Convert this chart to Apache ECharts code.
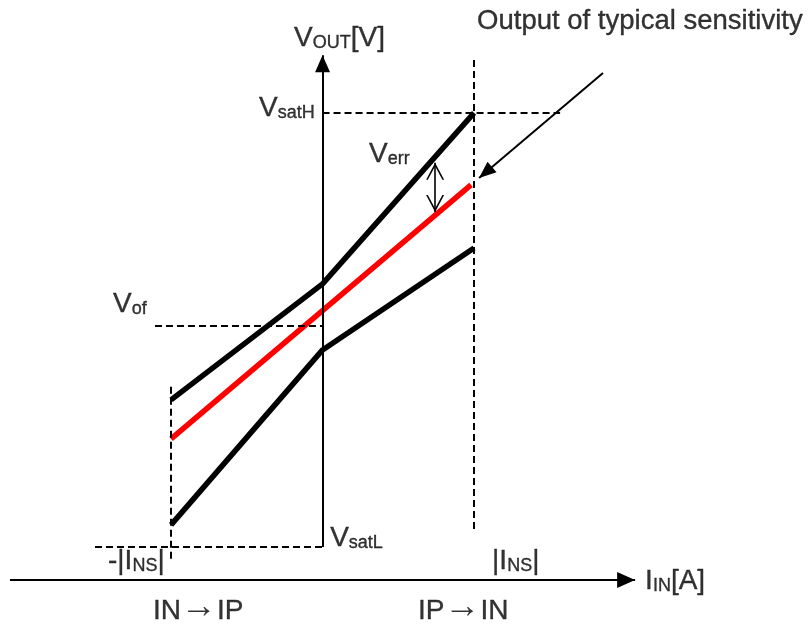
<!DOCTYPE html>
<html><head><meta charset="utf-8">
<script src="https://cdn.jsdelivr.net/npm/echarts@6/dist/echarts.min.js"></script>
<style>html,body{margin:0;padding:0;background:#fff}#c{width:811px;height:626px}</style>
</head><body><div id="c"></div>
<script>
// ---- Data (current in units of |I_NS|; output voltage with VsatL = 0, VsatH = 10) ----
const INS = 1;
const VsatL = 0;
const VsatH = 10;
const Vof = 5.09;
const upperLimit = [[-1, 3.39], [0, 6.06], [1, 10]];
const typicalOutput = [[-1, 2.49], [0.98, 8.34]];
const lowerLimit = [[-1, 0.51], [0, 4.54], [1, 6.89]];
const verrX = 0.743, verrFrom = 7.72, verrTo = 8.85;
const pointerFrom = [1.851, 10.92];
const pointerTo = [1.033, 8.50];
const xAxisFrom = -2.063, xAxisTo = 2.063, xAxisLevel = -0.76;
const yAxisTop = 11.33;
const insGuideLeft = [3.69, -0.30];
const insGuideRight = [11.22, 0.39];
const satHGuideEnd = 1.568;
const ofGuideStart = -1.106;
const satLGuideStart = -1.502;
// text labels: [x, y (bottom of text), rich text]
const labelItems = [
  [-0.188, 11.40, '{m|V}{s|OUT}{m|[V]}'],
  [1.020, 11.79, '{o|Output of typical sensitivity}'],
  [-0.419, 9.79, '{m|V}{s|satH}'],
  [0.307, 8.73, '{m|V}{s|err}'],
  [-1.383, 5.275, '{m|V}{s|of}'],
  [0.050, -0.115, '{m|V}{s|satL}'],
  [-1.416, -0.645, '{m|-|I}{s|NS}{m||}'],
  [1.119, -0.645, '{m||I}{s|NS}{m||}'],
  [2.129, -1.106, '{m|I}{s|IN}{m|[A]}'],
  [-1.119, -1.797, '{m|IN}{a|\u2192}{m|IP}'],
  [0.630, -1.797, '{m|IP}{a|\u2192}{m|IN}']
];

const FONT = '"Liberation Sans", Arial, Helvetica, sans-serif';
const chart = echarts.init(document.getElementById('c'), null, {renderer: 'canvas'});
const dashed = {type: [7, 4], width: 2, color: '#000'};
const chevron = 'path://M0,17L9,0L18,17L16.3,17L9,3.4L1.7,17Z';
const txt = {verticalAlign: 'bottom', fontFamily: FONT, color: '#000', textBorderColor: '#000', textBorderWidth: 0.35};

chart.setOption({
  backgroundColor: '#fff',
  animation: false,
  grid: {left: 0, right: 0, top: 0, bottom: 0},
  xAxis: {type: 'value', min: -2.129, max: 3.224, show: false},
  yAxis: {type: 'value', min: -1.82, max: 12.601, show: false},
  series: [
    {
      name: 'guides', type: 'line', data: [], silent: true, z: 1,
      markLine: {
        silent: true, symbol: ['none', 'none'], label: {show: false},
        lineStyle: dashed, emphasis: {disabled: true},
        data: [
          [{coord: [-INS, insGuideLeft[0]]}, {coord: [-INS, insGuideLeft[1]]}],
          [{coord: [INS, insGuideRight[0]]}, {coord: [INS, insGuideRight[1]]}],
          [{coord: [0, VsatH]}, {coord: [satHGuideEnd, VsatH]}],
          [{coord: [ofGuideStart, Vof]}, {coord: [0, Vof]}],
          [{coord: [satLGuideStart, VsatL]}, {coord: [0, VsatL]}]
        ]
      }
    },
    {name: 'upper', type: 'line', data: upperLimit, symbol: 'none', z: 3,
      lineStyle: {width: 5.5, color: '#000'}},
    {name: 'lower', type: 'line', data: lowerLimit, symbol: 'none', z: 3,
      lineStyle: {width: 5.5, color: '#000'}},
    {name: 'typical', type: 'line', data: typicalOutput, symbol: 'none', z: 3,
      lineStyle: {width: 5.5, color: '#ff0000'}},
    {
      name: 'axes', type: 'line', data: [], silent: true, z: 5,
      markLine: {
        silent: true, label: {show: false}, emphasis: {disabled: true},
        lineStyle: {type: 'solid', width: 2, color: '#000'},
        symbol: ['none', 'triangle'],
        data: [
          [{coord: [xAxisFrom, xAxisLevel], symbol: 'none'},
           {coord: [xAxisTo, xAxisLevel], symbol: 'triangle', symbolSize: [16, 18], symbolOffset: [0, 9]}],
          [{coord: [0, VsatL], symbol: 'none'},
           {coord: [0, yAxisTop], symbol: 'triangle', symbolSize: [15, 17], symbolOffset: [0, 8.5]}],
          [{coord: pointerFrom, symbol: 'none', lineStyle: {width: 2}},
           {coord: pointerTo, symbol: 'triangle', symbolSize: [14, 17], symbolOffset: [0, 8.5]}],
          [{coord: [verrX, verrFrom], symbol: chevron, symbolSize: [18, 17], symbolOffset: [0, 8.5], lineStyle: {width: 1.6}},
           {coord: [verrX, verrTo], symbol: chevron, symbolSize: [18, 17], symbolOffset: [0, 8.5]}]
        ]
      }
    },
    {
      name: 'labels', type: 'scatter', z: 6, silent: true,
      symbolSize: 1, itemStyle: {color: 'rgba(0,0,0,0)'},
      data: labelItems.map(l => ({value: [l[0], l[1]], label: {formatter: l[2]}})),
      label: {
        show: true, position: 'inside', align: 'left', verticalAlign: 'bottom',
        color: '#000', fontFamily: FONT,
        rich: {
          m: Object.assign({fontSize: 28, lineHeight: 28}, txt),
          s: Object.assign({fontSize: 18, lineHeight: 18}, txt),
          o: Object.assign({fontSize: 27.5, lineHeight: 28}, txt),
          a: Object.assign({}, txt, {fontSize: 36, lineHeight: 28, textBorderWidth: 0})
        }
      }
    }
  ]
});
</script>
</body></html>
